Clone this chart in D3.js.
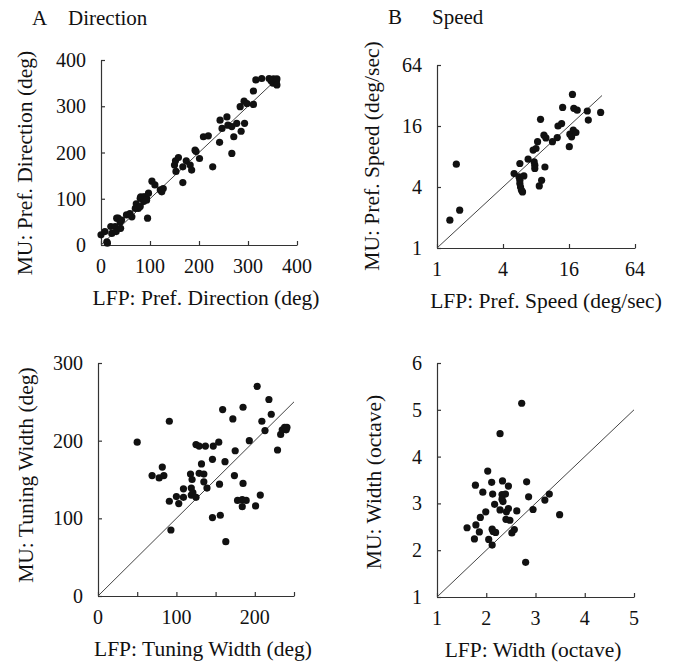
<!DOCTYPE html>
<html>
<head>
<meta charset="utf-8">
<script src="https://cdn.jsdelivr.net/npm/d3@7"></script>
<style>
  html, body { margin: 0; padding: 0; background: #fff; }
  svg text { font-family: "Liberation Serif", "Times New Roman", serif; fill: #111; }
</style>
</head>
<body>
<svg id="fig" width="677" height="663"></svg>
<script>
// ── Data ───────────────────────────────────────────────────────────────
// A: preferred direction, LFP (x) vs MU (y), deg
const dirLFP = [0, 8, 12, 13, 20, 22, 29, 31, 32, 35, 39, 40, 42, 52, 59, 63, 70, 72, 76, 80, 80, 81, 87, 87, 90, 93, 93, 95, 97,
  104, 110, 121, 124, 127, 150, 152, 153, 158, 167, 167, 174, 182, 185, 192, 194, 201, 209, 219, 228, 242, 243, 247,
  257, 259, 267, 267, 271, 277, 284, 286, 292, 293, 298, 311, 311, 316, 328, 343, 347, 351, 352, 358, 359, 359];
const dirMU = [22, 29, 7, 4, 40, 25, 40, 29, 58, 58, 50, 36, 54, 65, 68, 61, 79, 89, 79, 83, 101, 104, 94, 104, 104, 101, 97, 58, 112,
  138, 130, 119, 115, 122, 173, 182, 159, 189, 169, 135, 182, 173, 162, 205, 202, 187, 234, 236, 169, 222, 270, 252,
  277, 259, 198, 256, 234, 263, 299, 246, 311, 263, 306, 304, 333, 357, 360, 360, 355, 350, 359, 353, 359, 346];

// B: preferred speed, deg/sec (log2 axes)
const spdLFP = [1.31, 1.61, 1.50, 5.05, 5.6, 5.7, 5.7, 5.78, 5.9, 6.03, 5.7, 6.2, 6.78, 7.53, 8.0, 7.7, 7.8, 7.8, 8.27, 8.8, 9.65,
  9.0, 8.57, 9.45, 9.85, 11.3, 12.5, 12.7, 13.7, 14.0, 16.1, 16.3, 16.9, 17.5, 18.5, 17.2, 17.7, 19.0, 23.5, 24.0, 31.1];
const spdMU = [1.88, 2.36, 6.72, 5.43, 5.03, 4.66, 4.32, 4.0, 3.71, 3.58, 6.82, 5.15, 7.53, 9.25, 9.6, 7.07, 6.57, 6.1, 11.2, 18.6, 6.3,
  4.66, 4.1, 13.0, 12.2, 11.2, 12.3, 16.0, 16.9, 24.4, 10.0, 13.3, 12.5, 14.6, 13.8, 32.8, 23.9, 22.9, 22.5, 18.3, 21.8];

// C: direction tuning width, deg
const twLFP = [50, 69, 78, 82, 84, 91, 91, 93, 100, 103, 109, 109, 118, 119, 119, 120, 121, 125, 125, 129, 129, 132, 135, 135,
  137, 139, 146, 146, 147, 154, 155, 156, 159, 162, 163, 172, 174, 175, 178, 184, 184, 185, 185, 189, 193, 201, 203,
  207, 209, 213, 218, 221, 229, 233, 235, 238, 240, 241];
const twMU = [198, 155, 152, 166, 155, 225, 122, 85, 128, 119, 138, 127, 157, 139, 130, 150, 133, 127, 195, 193, 158, 170, 157, 147,
  193, 139, 176, 101, 193, 198, 144, 104, 240, 173, 70, 228, 155, 187, 123, 124, 115, 243, 145, 123, 200, 116, 270,
  130, 225, 213, 253, 234, 188, 208, 214, 217, 214, 217];

// D: speed tuning width, octave
const owLFP = [1.61, 1.76, 1.78, 1.79, 1.86, 1.88, 1.93, 1.99, 2.03, 2.05, 2.11, 2.12, 2.13, 2.12, 2.14, 2.19, 2.17, 2.28, 2.28,
  2.32, 2.33, 2.32, 2.34, 2.39, 2.41, 2.40, 2.45, 2.45, 2.48, 2.52, 2.57, 2.62, 2.72, 2.80, 2.82, 2.86, 2.95, 3.19, 3.28, 3.49];
const owMU = [2.48, 2.24, 3.39, 2.54, 2.39, 2.70, 3.24, 2.82, 3.69, 2.23, 3.45, 2.11, 3.20, 2.45, 2.40, 2.38, 2.98, 4.49, 2.86,
  3.19, 3.48, 3.09, 3.04, 3.20, 2.82, 2.66, 2.89, 3.37, 2.64, 2.37, 2.44, 2.84, 5.14, 1.74, 3.46, 3.14, 2.87, 3.07, 3.20, 2.76];

// axis ticks
const dirTicks = [0, 100, 200, 300, 400];
const spdTicks = [1, 4, 16, 64];
const twXTicks = [0, 50, 100, 150, 200, 250];
const twXLabels = [0, 100, 200];
const twYTicks = [0, 100, 200, 300];
const owXTicks = [1, 2, 3, 4, 5];
const owYTicks = [1, 2, 3, 4, 5, 6];

// ── Layout ─────────────────────────────────────────────────────────────
const svg = d3.select('#fig');
const INK = '#333';

const panels = [
  { xs: d3.scaleLinear().domain([0, 400]).range([101, 297]), ys: d3.scaleLinear().domain([0, 400]).range([245, 60]),
    xt: dirTicks, xl: dirTicks, yt: dirTicks, diag: [0, 360], x: dirLFP, y: dirMU,
    xLab: 'LFP: Pref. Direction (deg)', yLab: 'MU: Pref. Direction (deg)', xLabX: 206, yLabX: 32, yLabY: 163 },
  { xs: d3.scaleLog().base(2).domain([1, 64]).range([437, 635]), ys: d3.scaleLog().base(2).domain([1, 64]).range([248, 65]),
    xt: spdTicks, xl: spdTicks, yt: spdTicks, diag: [1, 32], x: spdLFP, y: spdMU,
    xLab: 'LFP: Pref. Speed (deg/sec)', yLab: 'MU: Pref. Speed (deg/sec)', xLabX: 546, yLabX: 379, yLabY: 156 },
  { xs: d3.scaleLinear().domain([0, 250]).range([98, 294]), ys: d3.scaleLinear().domain([0, 300]).range([596, 363]),
    xt: twXTicks, xl: twXLabels, yt: twYTicks, diag: [0, 250], x: twLFP, y: twMU,
    xLab: 'LFP: Tuning Width (deg)', yLab: 'MU: Tuning Width (deg)', xLabX: 203, yLabX: 33, yLabY: 475 },
  { xs: d3.scaleLinear().domain([1, 5]).range([437, 634]), ys: d3.scaleLinear().domain([1, 6]).range([597, 363]),
    xt: owXTicks, xl: owXTicks, yt: owYTicks, diag: [1, 5], x: owLFP, y: owMU,
    xLab: 'LFP: Width (octave)', yLab: 'MU: Width (octave)', xLabX: 533, yLabX: 381, yLabY: 482 }
];

// panel headings
svg.append('text').attr('x', 32).attr('y', 25).attr('font-size', 21).text('A');
svg.append('text').attr('x', 68).attr('y', 25).attr('font-size', 21).text('Direction');
svg.append('text').attr('x', 388).attr('y', 24).attr('font-size', 21).text('B');
svg.append('text').attr('x', 432).attr('y', 24).attr('font-size', 21).text('Speed');

panels.forEach(p => {
  const g = svg.append('g');
  const [x0, x1] = p.xs.range();
  const [yb, yt] = p.ys.range();

  // axes: ticks point inward
  const xAxis = d3.axisTop(p.xs).tickValues(p.xt).tickSize(4).tickSizeOuter(0).tickFormat('');
  const yAxis = d3.axisRight(p.ys).tickValues(p.yt).tickSize(4).tickSizeOuter(0).tickFormat('');
  g.append('g').attr('transform', `translate(0,${yb})`).call(xAxis);
  g.append('g').attr('transform', `translate(${x0},0)`).call(yAxis);
  g.selectAll('.domain, .tick line').attr('stroke', INK).attr('stroke-width', 1.2);

  // tick labels
  g.selectAll('.xl').data(p.xl).enter().append('text')
    .attr('x', d => p.xs(d)).attr('y', yb + 28).attr('text-anchor', 'middle')
    .attr('font-size', 20).text(d => d);
  g.selectAll('.yl').data(p.yt).enter().append('text')
    .attr('x', x0 - 15).attr('y', d => p.ys(d)).attr('dy', '0.35em').attr('text-anchor', 'end')
    .attr('font-size', 20).text(d => d);

  // axis titles
  g.append('text').attr('x', p.xLabX).attr('y', yb + 60).attr('text-anchor', 'middle')
    .attr('font-size', 21.5).text(p.xLab);
  g.append('text').attr('transform', `translate(${p.yLabX},${p.yLabY}) rotate(-90)`)
    .attr('text-anchor', 'middle').attr('font-size', 21.5).text(p.yLab);

  // unity line
  g.append('line')
    .attr('x1', p.xs(p.diag[0])).attr('y1', p.ys(p.diag[0]))
    .attr('x2', p.xs(p.diag[1])).attr('y2', p.ys(p.diag[1]))
    .attr('stroke', '#444').attr('stroke-width', 1);

  // points
  g.selectAll('.pt').data(d3.zip(p.x, p.y)).enter().append('circle')
    .attr('cx', d => p.xs(d[0])).attr('cy', d => p.ys(d[1])).attr('r', 3.6)
    .attr('fill', '#111');
});
</script>
</body>
</html>
